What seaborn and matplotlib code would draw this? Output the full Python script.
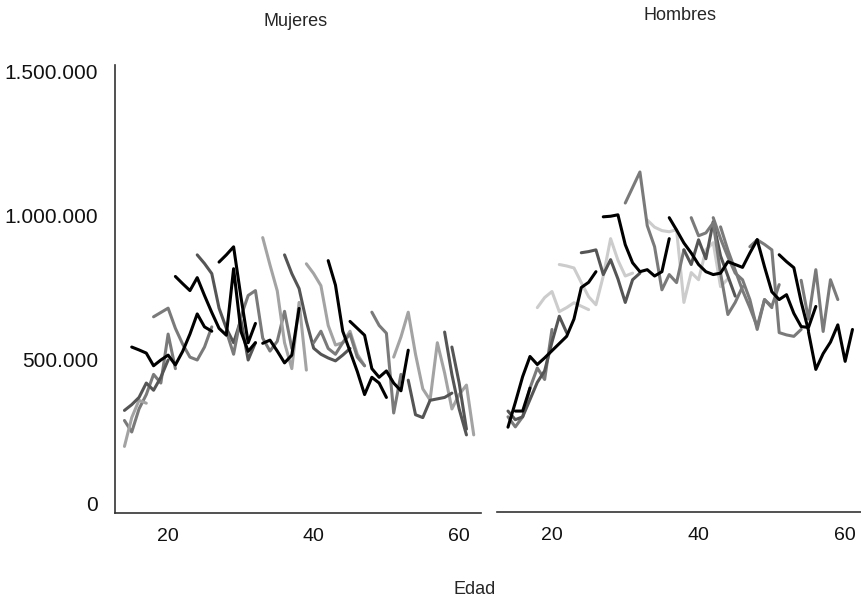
import matplotlib
matplotlib.use("Agg")
import matplotlib.pyplot as plt
import seaborn as sns
import pandas as pd
from matplotlib.ticker import FuncFormatter, FixedLocator

# ---------------- data (values in thousands) ----------------
# Mujeres: (shade, first age, values)
muj_k1 = [545, 535, 524, 480, 500, 517, 483, 530, 590, 660, 615, 600]
muj_k2 = [790, 765, 741, 786, 724, 665, 610, 586, 817, 600, 530, 560]
muj_k3 = [840, 865, 893, 720, 560, 627]
muj_k4 = [558, 569, 531, 490, 517, 679]
muj_k5 = [845, 760, 600, 530, 460, 380, 440, 420, 370]
muj_k6 = [634, 610, 586, 470, 440, 462, 420, 393, 534]
muj_d1 = [325, 345, 370, 420, 395, 440, 500]
muj_d2 = [865, 835, 800, 680, 610, 560, 640, 500, 560]
muj_d3 = [865, 800, 748, 634, 541, 520, 507, 497, 517, 540]
muj_d4 = [597, 450, 330, 240]
muj_d5 = [545, 420, 260]
muj_d6 = [430, 310, 300, 360, 365, 370, 385]
muj_m1 = [290, 250, 330, 380, 450, 420, 590, 470]
muj_m2 = [650, 665, 680, 610, 555, 510, 500, 545, 615]
muj_m3 = [600, 520, 650, 724, 741, 576, 531, 565, 669, 540]
muj_m4 = [560, 600, 540, 520, 560, 590, 510, 480]
muj_m5 = [666, 620, 593, 316, 450]
muj_l1 = [200, 300, 360, 350]
muj_l2 = [925, 830, 740, 560, 470, 700, 465]
muj_l3 = [834, 800, 758, 620, 552, 560, 600, 520, 480]
muj_l4 = [510, 580, 666, 520, 400, 361, 560, 455, 330, 380, 413, 240]

muj_segments = [
    ("m", 14, muj_m1), ("l", 14, muj_l1), ("d", 14, muj_d1),
    ("m", 18, muj_m2), ("d", 24, muj_d2), ("m", 28, muj_m3),
    ("l", 33, muj_l2), ("d", 36, muj_d3), ("l", 39, muj_l3),
    ("m", 40, muj_m4), ("m", 48, muj_m5), ("l", 51, muj_l4),
    ("d", 53, muj_d6), ("d", 58, muj_d4), ("d", 59, muj_d5),
    ("k", 15, muj_k1), ("k", 21, muj_k2), ("k", 27, muj_k3),
    ("k", 33, muj_k4), ("k", 42, muj_k5), ("k", 45, muj_k6),
]

# Hombres
hom_k1 = [264, 350, 440, 510, 482, 505, 530, 555, 580, 640, 750, 768, 805]
hom_k2 = [320, 320, 400]
hom_k3 = [996, 998, 1003, 899, 836, 805, 812, 790, 805, 920]
hom_k4 = [993, 950, 905, 870, 830, 805, 795, 800, 840, 830, 820, 870, 916]
hom_k5 = [916, 822, 735, 708, 725, 660, 614, 611, 684]
hom_k6 = [864, 840, 819, 700, 600]
hom_k7 = [595, 465, 520, 560, 620, 493, 604]
hom_d1 = [320, 290, 300, 360, 420, 460, 560, 650, 593]
hom_d2 = [871, 875, 881, 795, 847, 780, 698, 777, 800]
hom_d3 = [881, 830, 916, 850, 979, 860, 790, 720]
hom_m1 = [300, 265, 300, 400, 470, 430, 604]
hom_m2 = [1044, 1098, 1152, 965, 892, 742, 795, 767, 881]
hom_m3 = [993, 930, 940, 975, 800, 656, 698, 753]
hom_m4 = [993, 920, 857, 800, 777, 708, 604, 708, 684, 760]
hom_m5 = [892, 916, 900, 881, 593, 585, 580, 604]
hom_m6 = [775, 640, 812, 597, 777, 708]
hom_m7 = [961, 880, 810, 740, 680, 614, 708, 680]
hom_l1 = [680, 715, 736, 666, 680, 697, 685, 673]
hom_l2 = [830, 825, 818, 767, 718, 690, 790, 920, 845, 790, 800]
hom_l3 = [985, 960, 948, 944, 951, 698, 802, 777, 881, 906, 753, 780]

hom_segments = [
    ("x", 18, hom_l1), ("x", 21, hom_l2), ("x", 33, hom_l3),
    ("m", 14, hom_m1), ("d", 14, hom_d1), ("d", 24, hom_d2),
    ("m", 30, hom_m2), ("d", 38, hom_d3), ("m", 39, hom_m3),
    ("m", 42, hom_m4), ("m", 43, hom_m7), ("m", 47, hom_m5),
    ("m", 54, hom_m6),
    ("k", 14, hom_k1), ("k", 15, hom_k2), ("k", 27, hom_k3),
    ("k", 36, hom_k4), ("k", 48, hom_k5), ("k", 51, hom_k6),
    ("k", 55, hom_k7),
]

shades = {"k": "#000000", "d": "#555555", "m": "#7a7a7a",
          "l": "#a3a3a3", "x": "#cccccc"}

y_ticks = [0, 500000, 1000000, 1500000]
x_ticks = [20, 40, 60]


def build(segments):
    rows = []
    for i, (shade, start, vals) in enumerate(segments):
        for j, v in enumerate(vals):
            rows.append({"seg": f"s{i}", "shade": shade,
                         "edad": start + j, "valor": v * 1000})
    return pd.DataFrame(rows)


df_m = build(muj_segments)
df_h = build(hom_segments)

# ---------------- plot ----------------
sns.set_theme(style="white")
plt.rcParams["font.family"] = ["Liberation Sans", "DejaVu Sans"]

W, H = 862, 599
fig = plt.figure(figsize=(W / 100, H / 100), dpi=100)
axL = fig.add_axes([115 / W, 1 - 513 / H, (481 - 115) / W, (513 - 65) / H])
axR = fig.add_axes([497 / W, 1 - 512 / H, (862 - 497) / W, (512 - 65) / H])

for ax, df, segs in ((axL, df_m, muj_segments), (axR, df_h, hom_segments)):
    pal = {f"s{i}": shades[s[0]] for i, s in enumerate(segs)}
    sns.lineplot(data=df, x="edad", y="valor", hue="seg", palette=pal,
                 estimator=None, sort=False, legend=False, ax=ax,
                 linewidth=2.2)
    ax.set_ylim(-31250, 1524300)
    ax.set_xlabel("")
    ax.set_ylabel("")
    ax.xaxis.set_major_locator(FixedLocator(x_ticks))
    ax.tick_params(axis="both", length=0, labelsize=14, colors="#111111")
    ax.tick_params(axis="x", pad=11)
    for sp in ("top", "right"):
        ax.spines[sp].set_visible(False)
    ax.spines["bottom"].set_color("#333333")
    ax.spines["bottom"].set_linewidth(1.2)

axL.set_xlim(12.7, 63.0)
axR.set_xlim(12.5, 62.3)

axL.yaxis.set_major_locator(FixedLocator(y_ticks))
axL.yaxis.set_major_formatter(
    FuncFormatter(lambda v, p: f"{int(v):,}".replace(",", ".")))
axL.tick_params(axis="y", pad=12, labelsize=15)
axL.spines["left"].set_color("#333333")
axL.spines["left"].set_linewidth(1.2)

axR.spines["left"].set_visible(False)
axR.set_yticks([])

fig.text(296 / W, 1 - 22 / H, "Mujeres", ha="center", va="center", fontsize=13)
fig.text(680 / W, 1 - 16 / H, "Hombres", ha="center", va="center", fontsize=13)
fig.text(475 / W, 1 - 590 / H, "Edad", ha="center", va="center", fontsize=13)

fig.savefig("out.png", dpi=100, facecolor="white")
